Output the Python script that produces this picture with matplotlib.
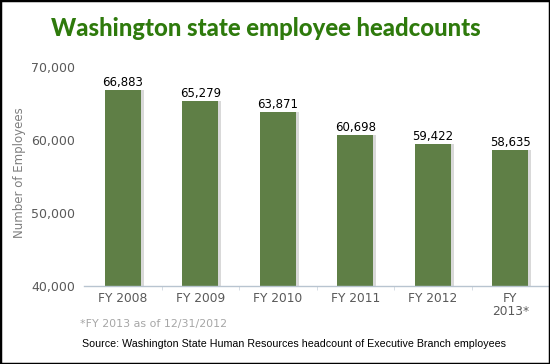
import matplotlib
matplotlib.use("Agg")
import matplotlib.pyplot as plt
from matplotlib.patches import Rectangle
from matplotlib.ticker import FuncFormatter

categories = ["FY 2008", "FY 2009", "FY 2010", "FY 2011", "FY 2012", "FY\n2013*"]
values = [66883, 65279, 63871, 60698, 59422, 58635]
yticks = [40000, 50000, 60000, 70000]

W, H = 550, 364
fig = plt.figure(figsize=(W / 100, H / 100), dpi=100)
ax = fig.add_axes([84 / W, 1 - 286 / H, (549 - 84) / W, (286 - 67) / H])

x = list(range(len(categories)))
bar_color = "#5f7f46"
# shadow bars
ax.bar([i + 0.035 for i in x], [v - 40000 for v in values], bottom=40000, width=0.47,
       color="#d9d9d9", zorder=1)
ax.bar(x, [v - 40000 for v in values], bottom=40000, width=0.46, color=bar_color, zorder=2)

for i, v in zip(x, values):
    ax.text(i, v + 150, f"{v:,}", ha="center", va="bottom", fontsize=8.5,
            color="black", family="DejaVu Sans")

ax.set_ylim(40000, 70000)
ax.set_xlim(-0.5, len(categories) - 0.5)
ax.set_yticks(yticks)
ax.yaxis.set_major_formatter(FuncFormatter(lambda v, p: f"{int(v):,}"))
ax.set_xticks(x)
ax.set_xticklabels(categories, fontsize=8.8, color="#595959", linespacing=1.0)
ax.tick_params(axis="y", length=0, pad=6.5, labelsize=9, labelcolor="#595959")
ax.tick_params(axis="x", length=0, pad=4)
ax.set_xticks([i + 0.5 for i in x[:-1]], minor=True)
ax.tick_params(axis="x", which="minor", length=3, color="#d0d8e0")
for s in ["top", "right", "left"]:
    ax.spines[s].set_visible(False)
ax.spines["bottom"].set_color("#b8c4d0")
ax.spines["bottom"].set_linewidth(1.0)

fig.text(20 / W, 1 - 173 / H, "Number of Employees", rotation=90, ha="center", va="center",
         fontsize=8.5, color="#7f7f7f")

fig.text(266 / W, 1 - 28 / H, "Washington state employee headcounts", ha="center", va="center",
         fontsize=17.2, fontweight="black", color="#2e7a0c", family="Lato")

fig.text(80 / W, 1 - 324 / H, "*FY 2013 as of 12/31/2012", ha="left", va="center",
         fontsize=7.9, color="#a6a6a6")
fig.text(82 / W, 1 - 344 / H,
         "Source: Washington State Human Resources headcount of Executive Branch employees",
         ha="left", va="center", fontsize=7.7, color="black", family="Liberation Sans")

fig.patches.append(Rectangle((0, 0), 1, 1, transform=fig.transFigure, fill=False,
                             edgecolor="black", linewidth=2.5, zorder=10))

fig.savefig("out.png", dpi=100)
